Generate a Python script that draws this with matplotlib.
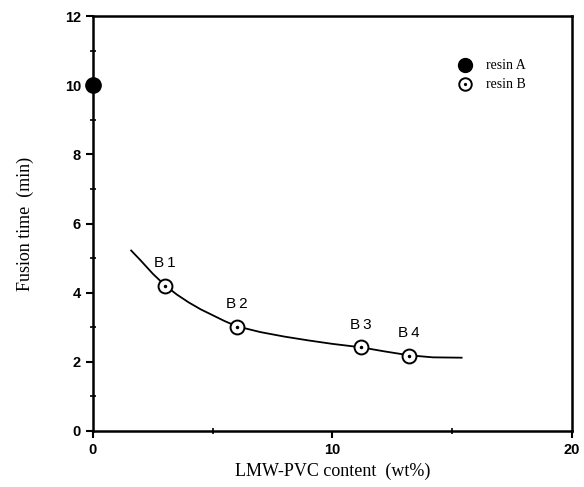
import matplotlib
matplotlib.use("Agg")
import matplotlib.pyplot as plt

# data
resinA_x = [0]
resinA_y = [10.0]
resinB_x = [3.0, 6.0, 11.2, 13.2]
resinB_y = [4.2, 3.02, 2.42, 2.18]
resinB_labels = ["B1", "B2", "B3", "B4"]
curve_x = [1.6, 2.0, 2.5, 3.0, 3.5, 4.0, 4.5, 5.0, 5.5, 6.0, 7.0, 8.0, 9.0, 10.0,
           11.2, 12.2, 13.2, 14.2, 15.4]
curve_y = [5.22, 4.93, 4.55, 4.22, 3.95, 3.72, 3.52, 3.35, 3.18, 3.03, 2.86, 2.73,
           2.62, 2.52, 2.42, 2.30, 2.19, 2.13, 2.12]
xticks = [0, 10, 20]
yticks = [0, 2, 4, 6, 8, 10, 12]

fig = plt.figure(figsize=(5.84, 4.87), dpi=100)
ax = fig.add_axes([0.159, 0.115, 0.820, 0.852])

ax.plot(curve_x, curve_y, color="black", lw=1.3, zorder=2)
ax.plot(resinA_x, resinA_y, "o", color="black", ms=11, clip_on=False, zorder=4)
ax.plot(resinB_x, resinB_y, "o", mfc="white", mec="black", mew=1.4, ms=10, zorder=3)
ax.plot(resinB_x, resinB_y, "o", color="black", ms=1.5, zorder=4)
for x, y, lab in zip(resinB_x, resinB_y, resinB_labels):
    ax.text(x, y + 0.45, lab[0] + "\u2009" + lab[1], ha="center", va="bottom", fontsize=11,
            family="Liberation Sans")

# legend (manual)
ax.plot([15.55], [10.58], "o", color="black", ms=10)
ax.plot([15.55], [10.03], "o", mfc="white", mec="black", mew=1.4, ms=9)
ax.plot([15.55], [10.03], "o", color="black", ms=1.3)
ax.text(16.4, 10.58, "resin A", va="center", ha="left", fontsize=10, family="Liberation Serif")
ax.text(16.4, 10.03, "resin B", va="center", ha="left", fontsize=10, family="Liberation Serif")

ax.set_xlim(0, 20)
ax.set_ylim(0, 12)
ax.set_xticks(xticks)
ax.set_xticks([5, 15], minor=True)
ax.set_yticks(yticks)
ax.set_yticks([1, 3, 5, 7, 9, 11], minor=True)
ax.tick_params(axis="both", which="major", direction="out", length=5, width=1.5,
               labelsize=10.5)
ax.tick_params(axis="both", which="minor", direction="inout", length=5, width=1.2)
for lab in ax.get_xticklabels() + ax.get_yticklabels():
    lab.set_fontweight("bold")
    lab.set_family("Liberation Sans")
for s in ax.spines.values():
    s.set_linewidth(1.8)

ax.set_xlabel("LMW-PVC content  (wt%)", fontsize=13, family="Liberation Serif", labelpad=4)
ax.set_ylabel("Fusion time  (min)", fontsize=13, family="Liberation Serif", labelpad=22)

fig.savefig("out.png", dpi=100)
